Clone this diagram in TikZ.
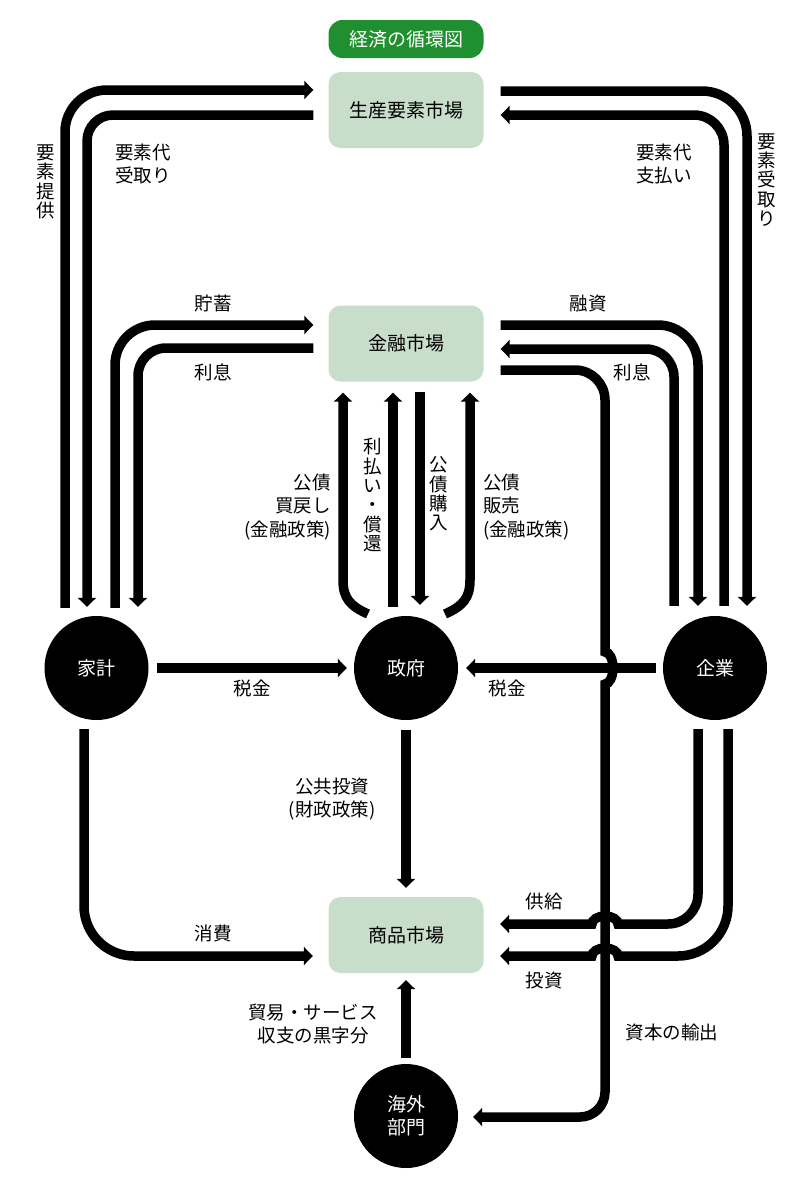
\documentclass[tikz,border=0pt]{standalone}
\usepackage{fontspec}
\setmainfont{Noto Sans CJK JP}
\usetikzlibrary{arrows.meta,calc}
\definecolor{titlegreen}{HTML}{1F8F2F}
\definecolor{boxgreen}{HTML}{C8DECB}
\newcommand{\lblfont}{\fontsize{18.5pt}{23.5pt}\selectfont}
\newcommand{\vlblfont}{\fontsize{18.5pt}{19.3pt}\selectfont}
\newcommand{\boxfont}{\fontsize{19pt}{23pt}\selectfont}
\begin{document}
\begin{tikzpicture}[x=1pt,y=-1pt,
  flow/.style={line width=9.5pt},
  arr/.style={line width=9.5pt,-{Triangle[length=9pt,width=18pt]}},
  mkt/.style={fill=boxgreen,rounded corners=12pt,minimum width=155pt,minimum height=76pt,inner sep=0pt,font=\boxfont},
  agent/.style={circle,fill=black,text=white,minimum size=104pt,inner sep=0pt,align=center,font=\boxfont},
  lbl/.style={inner sep=0pt,font=\lblfont},
  vlbl/.style={inner sep=0pt,font=\vlblfont,align=center},
]
\useasboundingbox (0,0) rectangle (808,1186);
% nodes
\node[fill=titlegreen,text=white,rounded corners=14pt,minimum width=155pt,minimum height=38pt,inner sep=0pt,font=\boxfont] (title) at (406,39) {経済の循環図};
\node[mkt] (fm) at (406,110) {生産要素市場};
\node[mkt] (fin) at (406,343.5) {金融市場};
\node[mkt] (gm) at (406,935) {商品市場};
\node[agent] (hh) at (96.5,668) {家計};
\node[agent] (gov) at (406,668) {政府};
\node[agent] (firm) at (715,668) {企業};
\node[agent] (frn) at (406,1116) {海外\\部門};

% factor market loops
\draw[arr,rounded corners=42pt] ([xshift=-31.5pt,yshift=8pt]hh.north) |- ([xshift=-15pt,yshift=20pt]fm.west);
\draw[arr,rounded corners=26pt] ([xshift=-15pt,yshift=-5pt]fm.west) -| ([xshift=-9.5pt,yshift=9pt]hh.north);
\draw[arr,rounded corners=45pt] ([xshift=17pt,yshift=19pt]fm.east) -| ([xshift=32pt,yshift=10pt]firm.north);
\draw[arr,rounded corners=30pt] ([xshift=9pt,yshift=10pt]firm.north) |- ([xshift=17pt,yshift=-5pt]fm.east);

% financial market loops
\draw[arr,rounded corners=40pt] ([xshift=18.5pt,yshift=8pt]hh.north) |- ([xshift=-15pt,yshift=18.5pt]fin.west);
\draw[arr,rounded corners=28pt] ([xshift=-15pt,yshift=-4.5pt]fin.west) -| ([xshift=41.5pt,yshift=9pt]hh.north);
\draw[arr,rounded corners=40pt] ([xshift=17pt,yshift=18.5pt]fin.east) -| ([xshift=-17pt,yshift=10pt]firm.north);
\draw[arr,rounded corners=28pt] ([xshift=-41pt,yshift=10pt]firm.north) |- ([xshift=17pt,yshift=-5.5pt]fin.east);

% government <-> financial market
\draw[arr] ([xshift=-38pt,yshift=54pt]gov.center) .. controls (350,606) and (343,598) .. (343,580) -- ([xshift=-63pt,yshift=-11pt]fin.south);
\draw[arr] ([xshift=-13pt,yshift=9pt]gov.north) -- ([xshift=-13pt,yshift=-11pt]fin.south);
\draw[arr] ([xshift=14pt,yshift=-10pt]fin.south) -- ([xshift=14pt,yshift=11pt]gov.north);
\draw[arr] ([xshift=39pt,yshift=54pt]gov.center) .. controls (463,606) and (470,598) .. (470,580) -- ([xshift=64pt,yshift=-11pt]fin.south);

% capital export (with bump over tax line)
\draw[arr] ([xshift=17pt,yshift=-26.5pt]fin.east) -- (575,370) .. controls (591.6,370) and (605,383.4) .. (605,400)
  -- (605,652) arc[start angle=-90,end angle=90,x radius=8,y radius=16]
  -- (605,1092) .. controls (605,1105.8) and (593.8,1117) .. (580,1117) -- ([xshift=15pt,yshift=-1pt]frn.east);

% taxes
\draw[arr] ([xshift=8.5pt]hh.east) -- ([xshift=-7pt]gov.west);
\draw[arr] ([xshift=-7pt]firm.west) -- ([xshift=8pt]gov.east);

% government -> goods market
\draw[arr] ([yshift=-10pt]gov.south) -- ([yshift=9pt]gm.north);

% consumption
\draw[arr,rounded corners=50pt] ([xshift=-12.5pt,yshift=-9pt]hh.south) |- ([xshift=-15.5pt,yshift=-21pt]gm.west);

% supply and investment (with hops)
\draw[arr] ([xshift=-17pt,yshift=-9pt]firm.south) -- (698,894) .. controls (698,910.6) and (684.6,924) .. (668,924)
  -- (618,924) arc[start angle=0,end angle=-180,x radius=13,y radius=8] -- ([xshift=16.5pt,yshift=11pt]gm.east);
\draw[arr] ([xshift=13pt,yshift=-9pt]firm.south) -- (728,906) .. controls (728,933.6) and (705.6,956) .. (678,956)
  -- (618,956) arc[start angle=0,end angle=-180,x radius=13,y radius=8] -- ([xshift=16.5pt,yshift=-21pt]gm.east);

% foreign -> goods market
\draw[arr] ([yshift=6pt]frn.north) -- ([yshift=-7pt]gm.south);

% labels
\node[vlbl] (l1) at (46,182) {要\\素\\提\\供};
\node[lbl,align=left,anchor=west] (l2) at (115,164) {要素代\\受取り};
\node[lbl,align=left,anchor=west] (l3) at (636,164) {要素代\\支払い};
\node[vlbl] (l4) at (767,180) {要\\素\\受\\取\\り};
\node[lbl] (l5) at (213,303) {貯蓄};
\node[lbl] (l6) at (588,303) {融資};
\node[lbl] (l7) at (213,372) {利息};
\node[lbl] (l8) at (632,372) {利息};
\node[lbl,align=right,anchor=east] (l9) at (331,507) {公債\\買戻し\\(金融政策)};
\node[vlbl] (l10) at (373,495) {利\\払\\い\\・\\償\\還};
\node[vlbl] (l11) at (439,494) {公\\債\\購\\入};
\node[lbl,align=left,anchor=west] (l12) at (483,507) {公債\\販売\\(金融政策)};
\node[lbl] (l13) at (252,688) {税金};
\node[lbl] (l14) at (507,688) {税金};
\node[lbl,align=center] (l15) at (332,799) {公共投資\\(財政政策)};
\node[lbl] (l16) at (213,933) {消費};
\node[lbl] (l17) at (544,901) {供給};
\node[lbl] (l18) at (544,980) {投資};
\node[lbl,align=center] (l19) at (313,1024) {貿易・サービス\\収支の黒字分};
\node[lbl] (l20) at (672,1032) {資本の輸出};
\end{tikzpicture}
\end{document}
